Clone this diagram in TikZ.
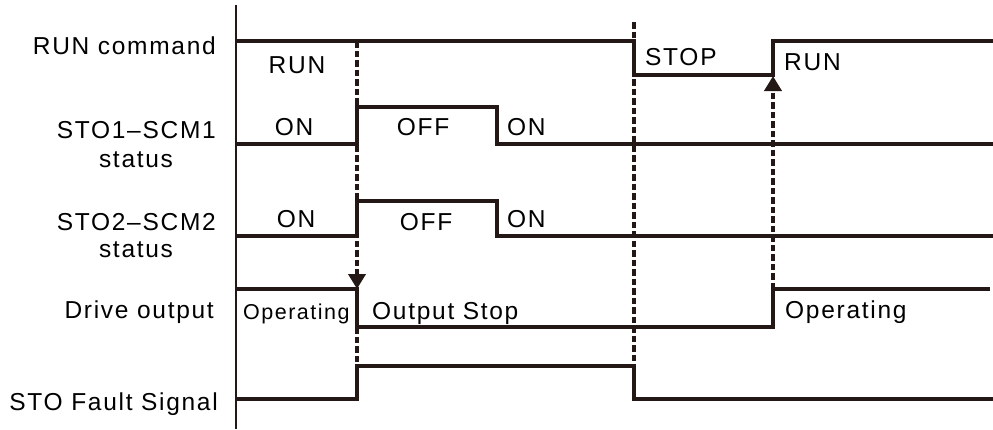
\documentclass[tikz,border=0pt]{standalone}
\usepackage{fontspec}
\setmainfont{Liberation Sans}[LetterSpace=7]
\usetikzlibrary{arrows.meta}
\definecolor{ink}{RGB}{35,24,21}
\begin{document}
\begin{tikzpicture}[x=1pt,y=-1pt,
  sig/.style={draw=ink,line width=3.2pt,line join=miter},
  axisline/.style={draw=ink,line width=2.8pt},
  dashline/.style={draw=ink,line width=4.2pt,dash pattern=on 6.5pt off 3pt},
  tip/.style={-{Triangle[width=17pt,length=15pt]}},
  lbl/.style={inner sep=0pt,text=black,font=\fontsize{24.5}{26}\selectfont},
  small/.style={inner sep=0pt,text=black,font=\fontsize{21.5}{24}\selectfont}]
\useasboundingbox (0,0) rectangle (993,429);
% axis
\draw[axisline] (236,5) -- (236,429);
% row labels
\node[lbl,anchor=base east] (l1) at (216,54) {RUN command};
\node[lbl,anchor=base east] (l2) at (216,138) {STO1–SCM1};
\node[lbl,anchor=base] (l2b) at (136,167) {status};
\node[lbl,anchor=base east] (l3) at (216,230) {STO2–SCM2};
\node[lbl,anchor=base] (l3b) at (136,257) {status};
\node[lbl,anchor=base east] (l4) at (214,318) {Drive output};
\node[lbl,anchor=base east] (l5) at (218,410) {STO Fault Signal};
% RUN command
\draw[sig] (236,41) -- (634,41) -- (634,75) -- (773,75) -- (773,41) -- (993,41);
% STO1-SCM1
\draw[sig] (236,144) -- (357,144) -- (357,107) -- (497,107) -- (497,144) -- (993,144);
% STO2-SCM2
\draw[sig] (236,236) -- (357,236) -- (357,201) -- (497,201) -- (497,236) -- (993,236);
% Drive output
\draw[sig] (236,289) -- (357,289) -- (357,327) -- (773,327) -- (773,289) -- (990,289);
% STO fault
\draw[sig] (236,399) -- (357,399) -- (357,366) -- (634,366) -- (634,399) -- (993,399);
% dashed markers
\coordinate (d1a) at (357,41);
\coordinate (d1b) at (357,289);
\coordinate (d1c) at (357,327);
\coordinate (d1d) at (357,366);
\coordinate (d2a) at (634,22);
\coordinate (d2b) at (634,366);
\coordinate (d3a) at (773,289);
\coordinate (d3b) at (773,76);
\draw[dashline,tip] (d1a) -- (d1b);
\draw[dashline] (d1c) -- (d1d);
\draw[dashline] (d2a) -- (d2b);
\draw[dashline,tip] (d3a) -- (d3b);
% state texts
\node[lbl,anchor=base] (t1) at (297,73) {RUN};
\node[lbl,anchor=base west] (t2) at (645,65) {STOP};
\node[lbl,anchor=base west] (t3) at (784,70) {RUN};
\node[lbl,anchor=base] (t4) at (294,135) {ON};
\node[lbl,anchor=base] (t5) at (423,135) {OFF};
\node[lbl,anchor=base west] (t6) at (507,135) {ON};
\node[lbl,anchor=base] (t7) at (296,227) {ON};
\node[lbl,anchor=base] (t8) at (426,230) {OFF};
\node[lbl,anchor=base west] (t9) at (507,227) {ON};
\node[small,anchor=base west] (t10) at (243,319) {Operating};
\node[lbl,anchor=base west] (t11) at (372,319) {Output Stop};
\node[lbl,anchor=base west] (t12) at (785,318) {Operating};
\end{tikzpicture}
\end{document}
